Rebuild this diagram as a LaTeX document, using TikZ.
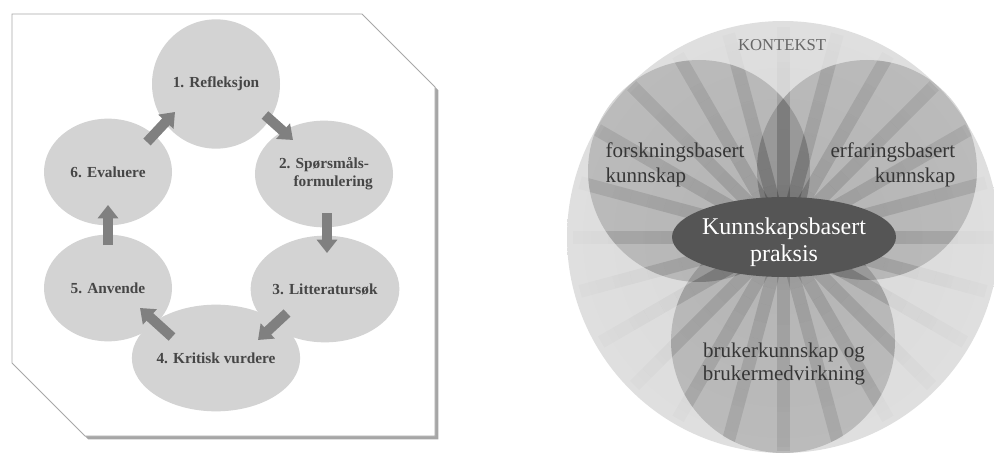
\documentclass[tikz,border=0pt]{standalone}
\usepackage{fontspec}
\setmainfont{Liberation Serif}
\usetikzlibrary{arrows.meta,shadows,calc,shapes.geometric}
\definecolor{ellfill}{HTML}{D3D3D3}
\definecolor{arrcol}{HTML}{808080}
\definecolor{txtl}{HTML}{464646}
\definecolor{txtr}{HTML}{363636}
\definecolor{ctxA}{HTML}{D8D8D8}
\definecolor{ctxB}{HTML}{DFDFDF}
\definecolor{ctxC}{HTML}{E4E4E4}
\definecolor{ctxD}{HTML}{ECECEC}
\definecolor{ctxE}{HTML}{F6F6F6}
\definecolor{midell}{HTML}{555555}
\definecolor{framecol}{HTML}{A8A8A8}
\definecolor{kontcol}{HTML}{666666}
\pgfdeclareradialshading{ctxshade}{\pgfpoint{0bp}{0bp}}{color(0bp)=(ctxA); color(25bp)=(ctxB); color(37bp)=(ctxC); color(44bp)=(ctxD); color(48bp)=(ctxE); color(50bp)=(white)}
\tikzset{
  cyc/.style={ellipse, fill=ellfill, minimum width=96pt, minimum height=80pt, inner sep=0pt,
    text=txtl, font=\bfseries\fontsize{11.5}{13.5}\selectfont, align=center},
  barrow/.style={draw=arrcol, line width=7.5pt, -{Triangle[width=15pt,length=10pt]}},
  lobe/.style={fill=black, fill opacity=0.16},
  rtxt/.style={text=txtr, font=\fontsize{15.75}{19}\selectfont},
  rayline/.style={line width=9.75pt, black},
}
\begin{document}
\begin{tikzpicture}[x=0.75pt,y=-0.75pt]
\useasboundingbox (0,0) rectangle (994,456);
% ---------- left panel ----------
\path[fill=white, draw=framecol, line width=0.6pt,
  drop shadow={shadow xshift=2.5pt, shadow yshift=-2.5pt, fill=black, opacity=0.35}]
  (12,14) -- (362,14) -- (435,87) -- (435,436) -- (85,436) -- (12,363) -- cycle;
\node[cyc, minimum height=97pt] (e1) at (216,84) {\raisebox{-6pt}{1. Refleksjon}};
\node[cyc] (e2) at (324,174) {2. Spørsmåls-\\\hspace*{1.2em}formulering};
\node[cyc] (e3) at (325,289) {3. Litteratursøk};
\node[cyc] (e4) at (216,358) {4. Kritisk vurdere};
\node[cyc] (e5) at (108,288) {5. Anvende};
\node[cyc] (e6) at (108,172) {6. Evaluere};
\draw[barrow] ([shift={(49,31)}]e1.center) -- ([shift={(-31,-34)}]e2.center);
\draw[barrow] ([shift={(3,39)}]e2.center) -- ([shift={(2,-36)}]e3.center);
\draw[barrow] ([shift={(-38,24)}]e3.center) -- ([shift={(42,-18)}]e4.center);
\draw[barrow] ([shift={(-44,-21)}]e4.center) -- ([shift={(32,20)}]e5.center);
\draw[barrow] ([shift={(0,-43)}]e5.center) -- ([shift={(0,33)}]e6.center);
\draw[barrow] ([shift={(39,-30)}]e6.center) -- ([shift={(-41,28)}]e1.center);
% ---------- right panel ----------
\coordinate (C) at (783,237);
\shade[shading=ctxshade] (C) circle (216);
% faint rays over the whole context disc
\foreach \a in {0,15,...,345} {
  \foreach \i in {0,...,11} {
    \pgfmathsetmacro\op{0.07*(1-\i/12)+0.008}
    \draw[rayline, draw opacity=\op]
      ($(C)+(\a:{\i*17.5})$) -- ($(C)+(\a:{(\i+1)*17.5})$);
  }
}
\fill[lobe] (699,171) circle (111);
\fill[lobe] (867,170) circle (110);
\fill[lobe] (783,341) circle (112);
% stronger rays inside each lobe
\foreach \cx/\cy/\r in {699/171/111, 867/170/110, 783/341/112} {
  \begin{scope}
    \clip (\cx,\cy) circle (\r);
    \foreach \a in {0,15,...,345} {
      \draw[rayline, draw opacity=0.075] (C) -- ($(C)+(\a:214)$);
    }
  \end{scope}
}
\node[ellipse, fill=midell, minimum width=168pt, minimum height=60pt, inner sep=0pt] (kbp) at (784,237) {};
\node[text=white, font=\fontsize{18}{20}\selectfont, align=center] (kbptxt) at (784,242) {Kunnskapsbasert\\praksis};
\node[text=kontcol, font=\fontsize{12.5}{14}\selectfont] (kont) at (782,45) {KONTEKST};
\node[rtxt, anchor=west, align=left] (forsk) at (601,165) {forskningsbasert\\kunnskap};
\node[rtxt, anchor=east, align=right] (erf) at (960,165) {erfaringsbasert\\kunnskap};
\node[rtxt, align=center, font=\fontsize{15.75}{17.5}\selectfont] (bruk) at (784,364) {brukerkunnskap og\\brukermedvirkning};
\end{tikzpicture}
\end{document}
